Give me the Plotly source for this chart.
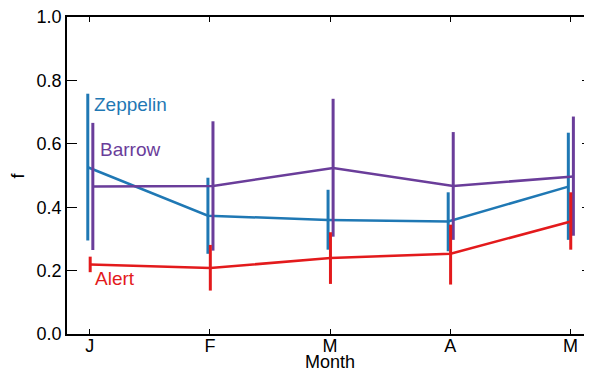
import plotly.graph_objects as go

months = ["J", "F", "M", "A", "M"]
month_idx = [0, 1, 2, 3, 4]

zep_val = [0.526, 0.373, 0.360, 0.355, 0.465]
zep_hi = [0.758, 0.493, 0.455, 0.447, 0.635]
zep_lo = [0.295, 0.253, 0.266, 0.261, 0.297]

bar_val = [0.465, 0.467, 0.524, 0.467, 0.497]
bar_hi = [0.666, 0.671, 0.742, 0.637, 0.686]
bar_lo = [0.265, 0.263, 0.307, 0.297, 0.310]

ale_val = [0.219, 0.208, 0.240, 0.253, 0.355]
ale_hi = [0.244, 0.281, 0.321, 0.345, 0.447]
ale_lo = [0.195, 0.137, 0.158, 0.156, 0.266]

series = [
    ("Zeppelin", zep_val, zep_hi, zep_lo, "#1f78b4", -0.017),
    ("Barrow", bar_val, bar_hi, bar_lo, "#6a3d9a", 0.025),
    ("Alert", ale_val, ale_hi, ale_lo, "#e31a1c", 0.003),
]

fig = go.Figure()
for name, v, hi, lo, col, off in series:
    fig.add_trace(go.Scatter(
        x=[i + off for i in month_idx], y=v, mode="lines", name=name,
        line=dict(color=col, width=2.5),
        error_y=dict(type="data", symmetric=False,
                     array=[h - a for h, a in zip(hi, v)],
                     arrayminus=[a - l for a, l in zip(v, lo)],
                     color=col, thickness=3, width=0),
        showlegend=False,
    ))

font = "Liberation Sans, Arial, sans-serif"
labels = [("Zeppelin", 0.02, 0.725, "#1f78b4"),
          ("Barrow", 0.07, 0.583, "#6a3d9a"),
          ("Alert", 0.025, 0.175, "#e31a1c")]
for t, x, y, c in labels:
    fig.add_annotation(x=x, y=y, xref="x", yref="y", text=t, showarrow=False,
                       xanchor="left", yanchor="middle",
                       font=dict(family=font, size=19, color=c))

fig.add_annotation(x=0.5, y=0, xref="paper", yref="paper", text="Month",
                   showarrow=False, xanchor="center", yanchor="middle",
                   yshift=-28, font=dict(family=font, size=18, color="black"))
fig.add_annotation(x=0, y=0.5, xref="paper", yref="paper", text="f",
                   showarrow=False, xanchor="center", yanchor="middle",
                   xshift=-50, textangle=-90,
                   font=dict(family=font, size=18, color="black"))

# page body has an 8px margin, so the figure is shifted by 8px
fig.update_layout(
    width=584, height=364,
    margin=dict(l=59, r=0, t=9, b=38, autoexpand=False),
    plot_bgcolor="white", paper_bgcolor="white",
    font=dict(family=font, size=18, color="black"),
    xaxis=dict(range=[-0.19, 4.18], tickvals=month_idx, ticktext=months,
               ticks="inside", ticklen=5, tickwidth=1.2, tickcolor="black",
               showline=True, linecolor="black", linewidth=1.5, mirror="ticks",
               showgrid=False, zeroline=False, automargin=False,
               ticklabelstandoff=-5),
    yaxis=dict(range=[0, 1.0], tickvals=[0, 0.2, 0.4, 0.6, 0.8, 1.0],
               ticktext=["0.0", "0.2", "0.4", "0.6", "0.8", "1.0"],
               ticks="inside", ticklen=10, tickwidth=1.2, tickcolor="black",
               showline=True, linecolor="black", linewidth=1.5, mirror="ticks",
               showgrid=False, zeroline=False, automargin=False,
               ticklabeloverflow="allow"),
)

fig.write_html("out.html")
